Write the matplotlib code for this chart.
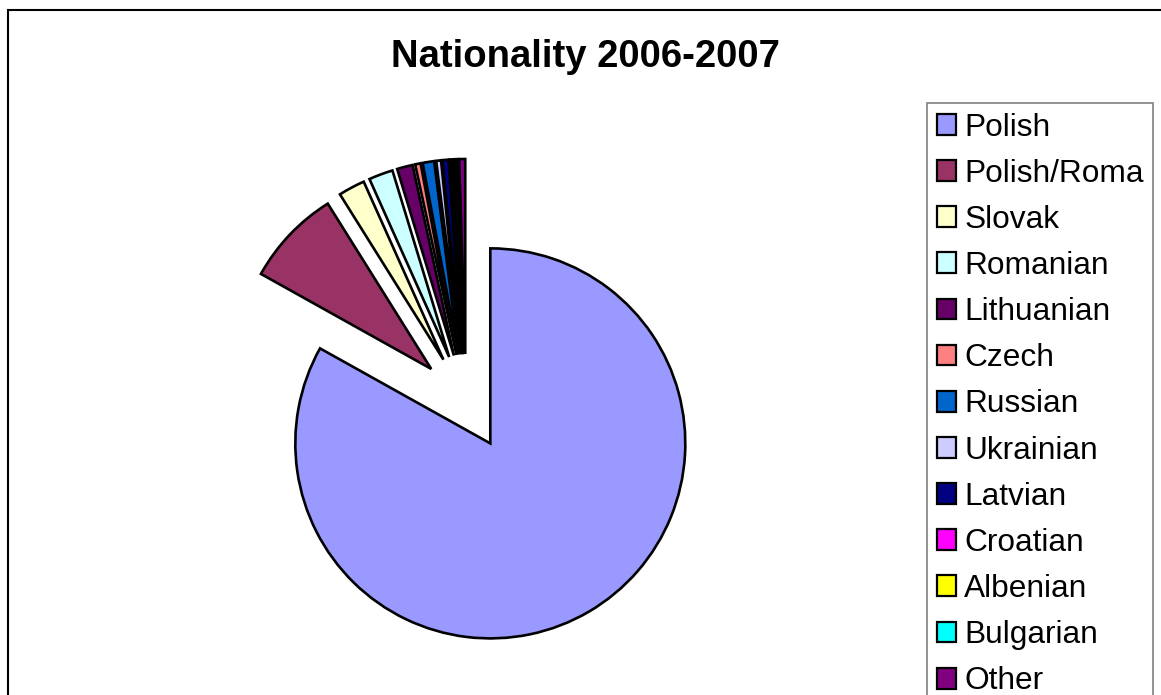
import matplotlib
matplotlib.use("Agg")
import matplotlib.pyplot as plt
from matplotlib.patches import Patch, Rectangle

categories = ["Polish", "Polish/Roma", "Slovak", "Romanian", "Lithuanian", "Czech",
              "Russian", "Ukrainian", "Latvian", "Croatian", "Albenian", "Bulgarian", "Other"]
values = [83.1, 8.0, 2.2, 2.0, 1.3, 0.45, 0.95, 0.4, 0.5, 0.2, 0.2, 0.2, 0.5]
colors = ["#9999FF", "#993366", "#FFFFCC", "#CCFFFF", "#660066", "#FF8080", "#0066CC",
          "#CCCCFF", "#000080", "#FF00FF", "#FFFF00", "#00FFFF", "#800080"]

plt.rcParams['font.family'] = ['Liberation Sans', 'DejaVu Sans']

W, H = 1161, 695
fig = plt.figure(figsize=(W / 100, H / 100), dpi=100)
ax = fig.add_axes([0, 0, 1, 1])

ax.pie(values, colors=colors, startangle=90, counterclock=False,
       center=(466, H - 402), radius=195, explode=[48] * len(values),
       wedgeprops=dict(edgecolor="black", linewidth=1.9), frame=False)
ax.set_xlim(0, W)
ax.set_ylim(0, H)
ax.set_aspect('equal')
ax.set_axis_off()

# outer chart border
fig.patches.append(Rectangle((8 / W, -0.1), 1.2, 1 - 10 / H + 0.1, transform=fig.transFigure,
                             fill=False, edgecolor="black", linewidth=1.5))

fig.text(585 / W, 1 - 57 / H, "Nationality 2006-2007", ha="center", va="center",
         fontsize=27.5, fontweight="bold")

handles = [Patch(facecolor=c, edgecolor="black", linewidth=1.6) for c in colors]
leg = ax.legend(handles, categories, loc="upper left",
                bbox_to_anchor=(927 / W, 1 - 103 / H), bbox_transform=fig.transFigure,
                borderaxespad=0, fontsize=22.8, handlelength=0.63, handleheight=0.63,
                handletextpad=0.25, labelspacing=0.51, borderpad=0.3,
                fancybox=False, framealpha=1, edgecolor="#808080")
leg.get_frame().set_linewidth(1.2)

fig.savefig("out.png", dpi=100)
